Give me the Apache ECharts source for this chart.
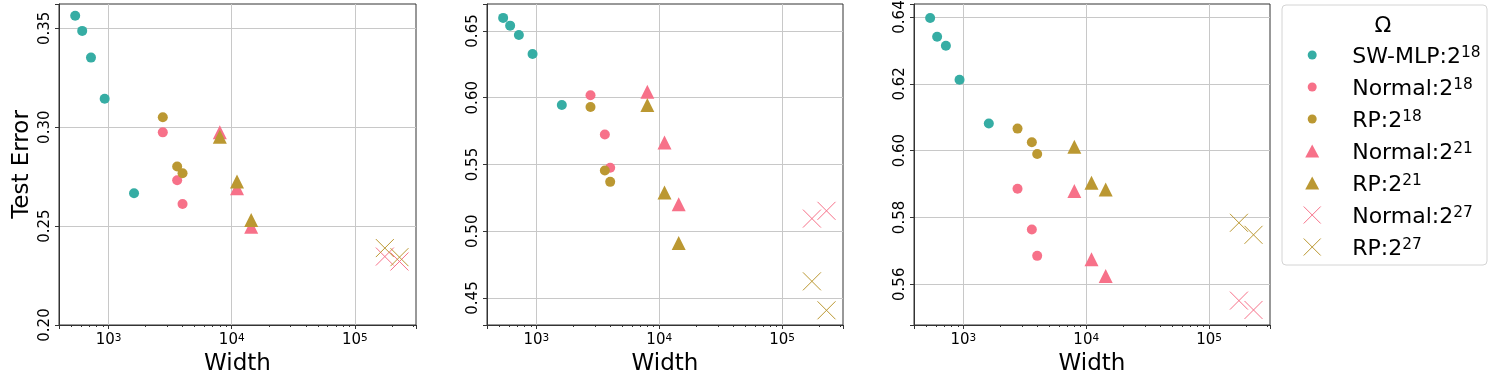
<!DOCTYPE html>
<html><head><meta charset="utf-8">
<script src="https://cdn.jsdelivr.net/npm/echarts@6/dist/echarts.min.js"></script>
<style>html,body{margin:0;padding:0;background:#fff}#c{width:1495px;height:374px}</style>
</head><body><div id="c"></div>
<script>
// ---- data ----
const seriesNames = ['SW-MLP:2^18', 'Normal:2^18', 'RP:2^18', 'Normal:2^21', 'RP:2^21', 'Normal:2^27', 'RP:2^27'];
const widthsSW = [536, 611, 720, 930, 1610];
const widths18 = [2757, 3606, 3987];
const widths21 = [8000, 11030, 14390];
const widths27 = [175000, 230000];

// panel 1
const p1SW = [0.3564, 0.3487, 0.3352, 0.3144, 0.2666];
const p1N18 = [0.2974, 0.2732, 0.2612];
const p1RP18 = [0.3050, 0.2801, 0.2767];
const p1N21 = [0.2974, 0.2691, 0.2497];
const p1RP21 = [0.2952, 0.2725, 0.2531];
const p1N27 = [0.2346, 0.2321];
const p1RP27 = [0.2389, 0.2343];
// panel 2
const p2SW = [0.6598, 0.6540, 0.6470, 0.6328, 0.5945];
const p2N18 = [0.6018, 0.5725, 0.5475];
const p2RP18 = [0.5930, 0.5455, 0.5370];
const p2N21 = [0.6045, 0.5665, 0.5203];
const p2RP21 = [0.5945, 0.5290, 0.4913];
const p2N27 = [0.5095, 0.5153];
const p2RP27 = [0.4625, 0.4408];
// panel 3
const p3SW = [0.6397, 0.6341, 0.6314, 0.6212, 0.6081];
const p3N18 = [0.5886, 0.5764, 0.5685];
const p3RP18 = [0.6066, 0.6025, 0.5990];
const p3N21 = [0.5879, 0.5675, 0.5625];
const p3RP21 = [0.6012, 0.5904, 0.5884];
const p3N27 = [0.5551, 0.5523];
const p3RP27 = [0.5784, 0.5748];

const xRange = [396, 313300];
const yRanges = [[0.20, 0.3623], [0.4298, 0.6702], [0.5478, 0.6439]];
const yTickSteps = [0.05, 0.05, 0.02];

// ---- styling ----
const FONT = 'DejaVu Sans';
const TEAL = '#36ada4', PINK = '#f77189', GOLD = '#bb9832';
const CROSS = 'path://M0,0L10,10M10,0L0,10';
const groupStyle = [
  {color: TEAL, symbol: 'circle', size: 10, widths: widthsSW},
  {color: PINK, symbol: 'circle', size: 10, widths: widths18},
  {color: GOLD, symbol: 'circle', size: 10, widths: widths18},
  {color: PINK, symbol: 'triangle', size: 14, widths: widths21},
  {color: GOLD, symbol: 'triangle', size: 14, widths: widths21},
  {color: PINK, symbol: CROSS, size: 18, widths: widths27, cross: true},
  {color: GOLD, symbol: CROSS, size: 18, widths: widths27, cross: true}
];
const panels = [
  [p1SW, p1N18, p1RP18, p1N21, p1RP21, p1N27, p1RP27],
  [p2SW, p2N18, p2RP18, p2N21, p2RP21, p2N27, p2RP27],
  [p3SW, p3N18, p3RP18, p3N21, p3RP21, p3N27, p3RP27]
];
const gridPos = [{left: 59, width: 357}, {left: 487, width: 356}, {left: 914, width: 356}];

const grids = [], xAxes = [], yAxes = [], series = [];
gridPos.forEach((g, i) => {
  grids.push({left: g.left, width: g.width, top: 4, height: 321, show: true,
    containLabel: false, outerBoundsMode: 'none',
    borderColor: '#333', borderWidth: 1, backgroundColor: 'transparent'});
  xAxes.push({
    type: 'log', logBase: 10, gridIndex: i, min: xRange[0], max: xRange[1],
    name: 'Width', nameLocation: 'middle', nameGap: 28,
    nameTextStyle: {fontFamily: FONT, fontSize: 23, color: '#000'},
    axisLine: {show: true, lineStyle: {color: '#333', width: 1}},
    axisTick: {show: true, length: 4, lineStyle: {color: '#333'}},
    minorTick: {show: true, splitNumber: 9, length: 2, lineStyle: {color: '#333'}},
    splitLine: {show: true, showMinLine: false, showMaxLine: false, lineStyle: {color: '#c8c8c8', width: 1}},
    axisLabel: {
      margin: 8, color: '#000', fontFamily: FONT, fontSize: 15,
      formatter: v => {
        const e = Math.log10(v), r = Math.round(e);
        return Math.abs(e - r) < 1e-6 ? '10{sup|' + r + '}' : '';
      },
      rich: {sup: {fontFamily: FONT, fontSize: 10.5, verticalAlign: 'top', lineHeight: 10, color: '#000'}}
    }
  });
  const step = yTickSteps[i];
  const ya = {
    type: 'value', gridIndex: i, min: yRanges[i][0], max: yRanges[i][1],
    axisLine: {show: true, lineStyle: {color: '#333', width: 1}},
    axisTick: {show: true, length: 4, lineStyle: {color: '#333'}},
    splitLine: {show: true, showMinLine: false, showMaxLine: false, lineStyle: {color: '#c8c8c8', width: 1}},
    axisLabel: {
      rotate: 90, margin: 6, color: '#000', fontFamily: FONT, fontSize: 15,
      formatter: v => Math.abs(v / step - Math.round(v / step)) < 1e-6 ? v.toFixed(2) : ''
    }
  };
  if (i === 0) {
    ya.interval = 0.05;
    ya.name = 'Test Error'; ya.nameLocation = 'middle'; ya.nameGap = 25;
    ya.nameTextStyle = {fontFamily: FONT, fontSize: 23, color: '#000'};
  } else {
    ya.splitNumber = 5;
  }
  yAxes.push(ya);
  panels[i].forEach((vals, k) => {
    const st = groupStyle[k];
    series.push({
      type: 'scatter', name: seriesNames[k], xAxisIndex: i, yAxisIndex: i,
      data: st.widths.map((w, j) => [w, vals[j]]),
      symbol: st.symbol, symbolSize: st.size,
      itemStyle: st.cross ? {color: st.color, borderColor: st.color, borderWidth: 1, opacity: 1}
                          : {color: st.color, opacity: 1},
      emphasis: {disabled: true}, z: 2 + k
    });
  });
});

// legend icons, all in a 17x17 box so every row is laid out alike
const ICON_CIRCLE = 'path://M0,0M17,17M13,8.5A4.5,4.5,0,1,1,4,8.5A4.5,4.5,0,1,1,13,8.5Z';
const ICON_TRI = 'path://M0,0M17,17M8.5,2L15.5,15L1.5,15Z';
const ICON_CROSS = 'path://M0,0L17,17M17,0L0,17';
const legendIcons = [ICON_CIRCLE, ICON_CIRCLE, ICON_CIRCLE, ICON_TRI, ICON_TRI, ICON_CROSS, ICON_CROSS];
const fmt = n => n.replace(/\^(\d+)/, '{sup|$1}');
const ICON_CX = 1311.7, TEXT_X = 1351.7, H = 17;
const legendLeft = ICON_CX - H / 2;
const textPad = TEXT_X - (legendLeft + H + 5);

const chart = echarts.init(document.getElementById('c'), null, {renderer: 'canvas'});
chart.setOption({
  animation: false,
  backgroundColor: '#fff',
  grid: grids, xAxis: xAxes, yAxis: yAxes, series: series,
  legend: {
    orient: 'vertical', left: legendLeft, top: 40.5, padding: 0, itemGap: 3,
    itemWidth: H, itemHeight: H, symbolKeepAspect: true, selectedMode: false,
    data: seriesNames.map((n, k) => ({
      name: n, icon: legendIcons[k],
      itemStyle: {borderWidth: groupStyle[k].cross ? 1 : 0}
    })),
    formatter: fmt,
    textStyle: {
      fontFamily: FONT, fontSize: 22, color: '#000', lineHeight: 24, padding: [5, 0, 0, textPad],
      rich: {sup: {fontFamily: FONT, fontSize: 15.4, verticalAlign: 'top', lineHeight: 14, color: '#000'}}
    }
  },
  graphic: [
    {type: 'rect', shape: {x: 1282, y: 5, width: 205, height: 260, r: 4},
     style: {fill: '#fff', stroke: '#d4d4d4', lineWidth: 1}, z: -1, silent: true},
    {type: 'text', x: 1383, y: 26, silent: true,
     style: {text: 'Ω', fontFamily: FONT, fontSize: 22, fill: '#000', align: 'center', verticalAlign: 'middle'}}
  ]
});
</script></body></html>
